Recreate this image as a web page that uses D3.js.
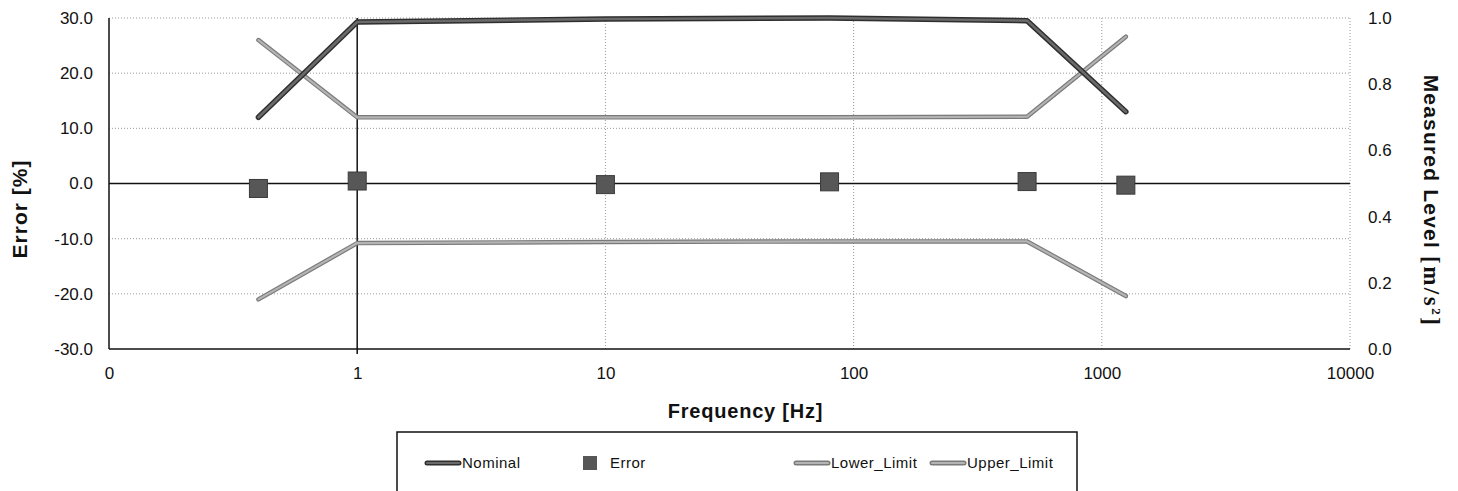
<!DOCTYPE html>
<html><head><meta charset="utf-8">
<script src="https://cdn.jsdelivr.net/npm/d3@7"></script>
<style>body{margin:0;background:#fff}svg{display:block}text{font-family:"Liberation Sans",Arial,sans-serif}</style>
</head><body><svg id="c" width="1458" height="491"></svg>
<script>
const freq = [0.4, 1, 10, 80, 500, 1250];
const nominal = [0.70, 0.988, 0.997, 1.0, 0.992, 0.717];
const errorVals = [-0.9, 0.45, -0.2, 0.3, 0.35, -0.3];
const lowerLimit = [-21.0, -10.8, -10.6, -10.5, -10.5, -20.4];
const upperLimit = [26.0, 12.0, 12.0, 12.0, 12.1, 26.6];
const xTicks = [0.1, 1, 10, 100, 1000, 10000];
const xTickLabels = ["0", "1", "10", "100", "1000", "10000"];
const yLeftTicks = [-30, -20, -10, 0, 10, 20, 30];
const yRightTicks = [0, 0.2, 0.4, 0.6, 0.8, 1.0];
const legendItems = ["Nominal", "Error", "Lower_Limit", "Upper_Limit"];

const svg = d3.select("#c");
const L = 109, R = 1350, T = 18, B = 349;
const x = d3.scaleLog().domain([0.1, 10000]).range([L, R]);
const yL = d3.scaleLinear().domain([-30, 30]).range([B, T]);
const yR = d3.scaleLinear().domain([0, 1]).range([B, T]);
const fmt1 = d => d.toFixed(1);

// grid
const g = svg.append("g");
g.selectAll(".hg").data(yLeftTicks.filter(v => v !== 0 && v !== -30)).enter().append("line")
  .attr("x1", L).attr("x2", R).attr("y1", d => yL(d)).attr("y2", d => yL(d))
  .attr("stroke", "#9a9a9a").attr("stroke-width", 1).attr("stroke-dasharray", "1,2");
g.selectAll(".vg").data([10, 100, 1000, 10000]).enter().append("line")
  .attr("x1", d => x(d)).attr("x2", d => x(d)).attr("y1", T).attr("y2", B)
  .attr("stroke", "#9a9a9a").attr("stroke-width", 1).attr("stroke-dasharray", "1,2");

// axes frame
g.append("line").attr("x1", L).attr("x2", L).attr("y1", T).attr("y2", B).attr("stroke", "#111").attr("stroke-width", 1.5);
g.append("line").attr("x1", L).attr("x2", R).attr("y1", B).attr("y2", B).attr("stroke", "#111").attr("stroke-width", 1.5);
g.append("line").attr("x1", L).attr("x2", R).attr("y1", yL(0)).attr("y2", yL(0)).attr("stroke", "#111").attr("stroke-width", 1.5);
g.append("line").attr("x1", x(1)).attr("x2", x(1)).attr("y1", T).attr("y2", B + 5).attr("stroke", "#111").attr("stroke-width", 1.5);

function styleAxis(sel) {
  sel.select(".domain").remove();
  sel.selectAll("text").style("font-size", "17px").style("font-family", "Liberation Sans, Arial, sans-serif").attr("fill", "#111");
}
const ax = svg.append("g").attr("transform", `translate(0,${B})`)
  .call(d3.axisBottom(x).tickValues(xTicks).tickFormat((d, i) => xTickLabels[i]).tickSize(0).tickPadding(18));
styleAxis(ax);
const ayl = svg.append("g").attr("transform", `translate(${L},0)`)
  .call(d3.axisLeft(yL).tickValues(yLeftTicks).tickFormat(fmt1).tickSize(0).tickPadding(16));
styleAxis(ayl);
const ayr = svg.append("g").attr("transform", `translate(${R},0)`)
  .call(d3.axisRight(yR).tickValues(yRightTicks).tickFormat(fmt1).tickSize(0).tickPadding(18));
styleAxis(ayr);

// series
const lineL = d3.line().x((d, i) => x(freq[i])).y(d => yL(d));
const lineR = d3.line().x((d, i) => x(freq[i])).y(d => yR(d));
function casedPath(gen, data, outer, inner, wo, wi) {
  svg.append("path").attr("d", gen(data)).attr("fill", "none").attr("stroke", outer).attr("stroke-width", wo).attr("stroke-linecap", "round").attr("stroke-linejoin", "round");
  svg.append("path").attr("d", gen(data)).attr("fill", "none").attr("stroke", inner).attr("stroke-width", wi).attr("stroke-linecap", "round").attr("stroke-linejoin", "round");
}
casedPath(lineL, lowerLimit, "#7a7a7a", "#b4b4b4", 4.5, 2.2);
casedPath(lineL, upperLimit, "#7a7a7a", "#b4b4b4", 4.5, 2.2);
casedPath(lineR, nominal, "#2e2e2e", "#6a6a6a", 5.5, 2.6);

svg.selectAll(".err").data(errorVals).enter().append("rect")
  .attr("x", (d, i) => x(freq[i]) - 9).attr("y", d => yL(d) - 9)
  .attr("width", 18).attr("height", 18).attr("fill", "#575757").attr("stroke", "#3a3a3a").attr("stroke-width", 1);

// titles
svg.append("text").attr("transform", `translate(27,209) rotate(-90)`).attr("text-anchor", "middle")
  .attr("font-size", 21).attr("font-weight", "bold").attr("fill", "#111").attr("letter-spacing", 1).text("Error [%]");
const rt = svg.append("text").attr("transform", `translate(1424,201) rotate(90)`).attr("text-anchor", "middle")
  .attr("font-size", 21).attr("font-weight", "bold").attr("fill", "#111").attr("letter-spacing", 1.2);
rt.append("tspan").text("Measured Level  ");
const u = rt.append("tspan").style("font-family", "Liberation Serif, Times New Roman, serif").attr("font-size", 23).attr("letter-spacing", 2.5);
u.append("tspan").text("[m/s");
u.append("tspan").attr("font-size", 13).attr("dy", -8).text("2");
u.append("tspan").attr("dy", 8).text("]");

svg.append("text").attr("x", (L + R) / 2 + 16).attr("y", 418).attr("text-anchor", "middle")
  .attr("font-size", 20).attr("font-weight", "bold").attr("fill", "#111").attr("letter-spacing", 0.8).text("Frequency [Hz]");

// legend
const lg = svg.append("g");
lg.append("rect").attr("x", 397).attr("y", 432).attr("width", 680).attr("height", 70).attr("fill", "none").attr("stroke", "#111").attr("stroke-width", 1.5);
const ly = 463;
const lx = [427, 583, 796, 932];
function legLine(x0, outer, inner) {
  lg.append("line").attr("x1", x0).attr("x2", x0 + 32).attr("y1", ly).attr("y2", ly).attr("stroke", outer).attr("stroke-width", 5).attr("stroke-linecap", "round");
  lg.append("line").attr("x1", x0).attr("x2", x0 + 32).attr("y1", ly).attr("y2", ly).attr("stroke", inner).attr("stroke-width", 2.2).attr("stroke-linecap", "round");
}
legLine(lx[0], "#2e2e2e", "#6a6a6a");
lg.append("rect").attr("x", lx[1]).attr("y", ly - 7).attr("width", 14).attr("height", 14).attr("fill", "#575757");
legLine(lx[2], "#7a7a7a", "#b4b4b4");
legLine(lx[3], "#7a7a7a", "#b4b4b4");
const tx = [lx[0] + 35, lx[1] + 27, lx[2] + 35, lx[3] + 35];
lg.selectAll(".lt").data(legendItems).enter().append("text")
  .attr("x", (d, i) => tx[i]).attr("y", ly + 5).attr("font-size", 15).attr("letter-spacing", 0.5).attr("fill", "#111").text(d => d);
</script></body></html>
